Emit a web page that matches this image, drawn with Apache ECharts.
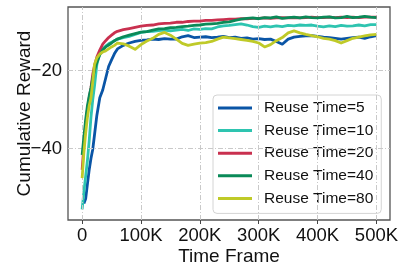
<!DOCTYPE html>
<html>
<head>
<meta charset="utf-8">
<script src="https://cdn.jsdelivr.net/npm/echarts@6/dist/echarts.min.js"></script>
<style>
html,body{margin:0;padding:0;background:#fff;}
#chart{width:406px;height:274px;}
</style>
</head>
<body>
<div id="chart"></div>
<script>
// Time frames (steps)
const timeFrames = [0,3000,6000,9000,12000,15000,18000,21000,25000,30000,35000,40000,45000,50000,55000,60000,
  70000,80000,90000,100000,110000,120000,130000,140000,150000,160000,170000,180000,190000,200000,
  210000,220000,230000,240000,250000,260000,270000,280000,290000,300000,310000,320000,330000,340000,350000,
  360000,370000,380000,390000,400000,410000,420000,430000,440000,450000,460000,470000,480000,490000,500000];

const seriesNames = ['Reuse Time=5','Reuse Time=10','Reuse Time=20','Reuse Time=40','Reuse Time=80'];

const reuse5 = [null,-54,-52.8,-49,-45.4,-42.5,-40.2,-36.5,-31.5,-27,-25,-22,-19,-17.3,-15.7,-14.5,
  -13.6,-13.0,-12.6,-12.3,-12.2,-12.0,-12.1,-11.9,-12.0,-12.0,-11.4,-11.1,-11.6,-11.5,
  -11.4,-11.6,-11.5,-11.3,-11.6,-11.5,-11.8,-11.7,-12.0,-11.9,-12.1,-12.0,-12.6,-13.3,-12.0,
  -11.5,-11.3,-11.2,-11.1,-11.3,-11.5,-11.6,-11.8,-12.0,-11.8,-11.6,-11.5,-11.8,-11.4,-11.1];

const reuse10 = [-55.5,-51,-47,-43,-38,-32,-27.5,-24,-18.5,-15.5,-14.5,-13.8,-13.2,-12.8,-12.4,-12.0,
  -11.6,-11.3,-10.8,-10.3,-10.1,-10.0,-9.8,-9.7,-9.9,-9.7,-9.5,-9.8,-9.4,-9.5,
  -9.3,-9.4,-8.9,-8.6,-8.5,-8.3,-8.1,-8.4,-8.8,-9.0,-8.7,-8.9,-8.6,-8.8,-8.5,
  -8.6,-8.4,-8.5,-8.4,-8.7,-8.9,-8.6,-8.8,-8.5,-8.7,-8.6,-8.4,-8.6,-8.3,-8.3];

const reuse20 = [-45.4,-39,-34,-30,-27,-24.5,-21,-18.8,-16.6,-14.8,-13.3,-12.4,-11.6,-11.0,-10.4,-10.0,
  -9.6,-9.3,-9.0,-8.7,-8.5,-8.4,-8.1,-8.0,-7.9,-7.7,-7.7,-7.5,-7.4,-7.4,
  -7.2,-7.2,-7.1,-7.0,-6.9,-6.9,-6.8,-6.8,-6.7,-6.7,-6.6,-6.7,-6.6,-6.5,-6.6,
  -6.5,-6.6,-6.5,-6.4,-6.5,-6.5,-6.4,-6.5,-6.4,-6.5,-6.4,-6.5,-6.4,-6.4,-6.4];

const reuse40 = [-41.6,-37,-32.5,-29,-26.5,-24.5,-22,-20,-18,-16,-14.8,-14.0,-13.5,-13.0,-12.4,-12.0,
  -11.4,-11.0,-10.6,-10.2,-10.1,-9.7,-9.4,-9.3,-9.1,-9.0,-8.8,-8.7,-8.5,-8.4,
  -8.2,-8.1,-8.0,-7.7,-7.6,-7.2,-6.9,-6.7,-6.6,-6.8,-6.5,-6.6,-6.3,-6.7,-6.5,
  -6.4,-6.6,-6.3,-6.5,-6.6,-6.4,-6.3,-6.6,-6.5,-6.2,-6.5,-6.4,-6.2,-6.4,-6.5];

const reuse80 = [-47.5,-41,-36,-32,-29,-27,-23,-18.5,-16.8,-15.8,-15.3,-15.0,-14.5,-14.0,-13.6,-13.0,
  -13.2,-13.8,-14.6,-13.4,-12.5,-11.8,-10.8,-10.3,-11.0,-12.0,-13.1,-13.6,-13.3,-13.0,
  -12.9,-12.6,-12.0,-11.5,-11.7,-11.9,-12.1,-12.3,-12.6,-13.0,-14.0,-13.4,-12.4,-11.6,-10.4,
  -9.9,-10.4,-10.8,-11.1,-11.4,-11.8,-12.0,-12.4,-13.0,-12.4,-11.8,-11.5,-11.2,-10.9,-10.8];

const xTicks = [0,100000,200000,300000,400000,500000];
const xTickLabels = ['0','100K','200K','300K','400K','500K'];
const yTicks = [-40,-20];
const yTickLabels = ['\u221240','\u221220'];

const colors = ['#0a55a6','#2ec4b0','#c9304f','#0a8a58','#bfca28'];
const allValues = [reuse5, reuse10, reuse20, reuse40, reuse80];

const FONT = 'Liberation Sans, Arial, sans-serif';

const chart = echarts.init(document.getElementById('chart'), null, {renderer:'canvas'});

const lineSeries = allValues.map((vals, i) => ({
  name: seriesNames[i],
  type: 'line',
  data: timeFrames.map((t, j) => [t, vals[j]]),
  showSymbol: false,
  symbol: 'none',
  connectNulls: false,
  lineStyle: {width: 2.8, color: colors[i], join: 'round'},
  itemStyle: {color: colors[i]},
  z: 3 + i,
  animation: false
}));

const gridLineStyle = {color: '#c9c9c9', width: 1, type: [5, 2, 1, 2]};
const gridSeries = {
  name: 'grid',
  type: 'line',
  data: [],
  z: 1,
  silent: true,
  animation: false,
  markLine: {
    silent: true,
    symbol: ['none','none'],
    label: {show: false},
    lineStyle: gridLineStyle,
    animation: false,
    data: xTicks.map(v => ({xAxis: v})).concat(yTicks.map(v => ({yAxis: v})))
  }
};

chart.setOption({
  animation: false,
  backgroundColor: '#ffffff',
  grid: {
    left: 68, right: 16, top: 7, bottom: 54,
    outerBoundsMode: 'none',
    containLabel: false,
    show: true, borderColor: '#555555', borderWidth: 1.3, backgroundColor: 'transparent'
  },
  xAxis: {
    type: 'value',
    min: -24000, max: 523000,
    name: 'Time Frame',
    nameLocation: 'middle',
    nameGap: 27,
    nameMoveOverlap: false,
    nameTextStyle: {fontSize: 19, color: '#111', fontFamily: FONT},
    axisLine: {show: false},
    axisTick: {show: true, customValues: xTicks, length: 4, lineStyle: {color: '#444', width: 1}},
    axisLabel: {
      customValues: xTicks, margin: 6, fontSize: 18.5, color: '#111', fontFamily: FONT,
      formatter: v => xTickLabels[xTicks.indexOf(v)]
    },
    splitLine: {show: false}
  },
  yAxis: {
    type: 'value',
    min: -58.2, max: -3.8,
    name: 'Cumulative Reward',
    nameLocation: 'middle',
    nameGap: 34,
    nameMoveOverlap: false,
    nameTextStyle: {fontSize: 19, color: '#111', fontFamily: FONT},
    axisLine: {show: false},
    axisTick: {show: true, customValues: yTicks, length: 4, lineStyle: {color: '#444', width: 1}},
    axisLabel: {
      customValues: yTicks, margin: 6, fontSize: 18.5, color: '#111', fontFamily: FONT,
      formatter: v => yTickLabels[yTicks.indexOf(v)]
    },
    splitLine: {show: false}
  },
  legend: {
    data: seriesNames.map((n, i) => ({name: n, icon: 'rect', itemStyle: {color: colors[i]}})),
    orient: 'vertical',
    left: 213, top: 95,
    padding: [5, 8, 7, 5],
    itemWidth: 34, itemHeight: 3,
    itemGap: 6.6,
    backgroundColor: 'rgba(255,255,255,0.85)',
    borderColor: '#d4d4d4', borderWidth: 1, borderRadius: 4,
    textStyle: {fontSize: 15.5, color: '#111', fontFamily: FONT, lineHeight: 16, padding: [0,0,0,7]}
  },
  series: [gridSeries].concat(lineSeries)
});
</script>
</body>
</html>
